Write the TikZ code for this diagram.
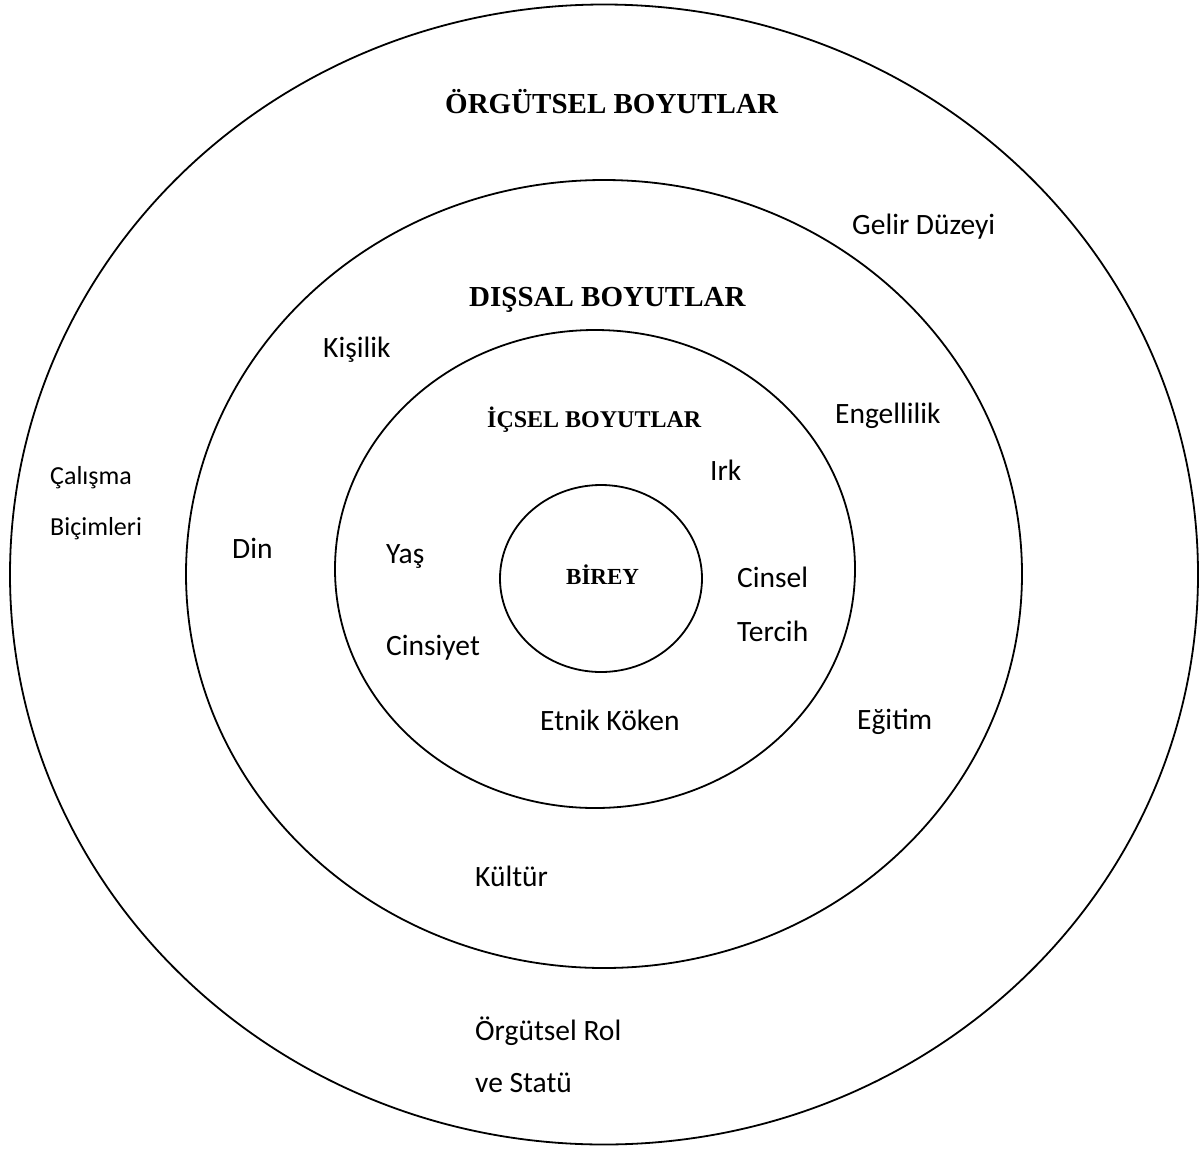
\documentclass[tikz,border=0pt]{standalone}
\usepackage{fontspec}
\setmainfont{Liberation Serif}
\newfontfamily\calfont{Carlito}
\begin{document}
\begin{tikzpicture}[x=1pt,y=-1pt,
  ring/.style={draw=black,line width=1.8pt},
  head/.style={font=\fontsize{29}{35}\selectfont\bfseries,anchor=base west,inner sep=0pt},
  headsm/.style={font=\fontsize{24}{29}\selectfont\bfseries,anchor=base west,inner sep=0pt},
  lbl/.style={font=\calfont\fontsize{29.5}{35}\selectfont,anchor=base west,inner sep=0pt},
  lblsm/.style={font=\calfont\fontsize{26}{31}\selectfont,anchor=base west,inner sep=0pt}]
\useasboundingbox[fill=white] (0,0) rectangle (1203,1149);
% rings
\draw[ring] (604,574.5) ellipse [x radius=594, y radius=570];
\draw[ring] (604,574) ellipse [x radius=418, y radius=394];
\draw[ring] (595,569) ellipse [x radius=260, y radius=239];
\draw[ring] (601,578.5) ellipse [x radius=101, y radius=93.5];
% headings
\node[head] (org) at (445,113) {ÖRGÜTSEL BOYUTLAR};
\node[head] (dis) at (469,306) {DIŞSAL BOYUTLAR};
\node[headsm] (ic) at (487,427) {İÇSEL BOYUTLAR};
\node[font=\fontsize{23}{28}\selectfont\bfseries,anchor=base west,inner sep=0pt] (birey) at (566,584) {BİREY};
% outer ring labels
\node[lbl] (gelir) at (852,234) {Gelir Düzeyi};
\node[lblsm] (calisma) at (50,484) {Çalışma};
\node[lblsm] (bicim) at (50,535) {Biçimleri};
\node[lbl] (rol) at (475,1040) {Örgütsel Rol};
\node[lbl] (statu) at (475,1092) {ve Statü};
% second ring labels
\node[lbl] (kisilik) at (323,357) {Kişilik};
\node[lbl] (engel) at (835,423) {Engellilik};
\node[lbl] (din) at (232,558) {Din};
\node[lbl] (egitim) at (857,729) {Eğitim};
\node[lbl] (kultur) at (475,886) {Kültür};
% third ring labels
\node[lbl] (irk) at (710,480) {Irk};
\node[lbl] (yas) at (386,563) {Yaş};
\node[lbl] (cinsel) at (737,587) {Cinsel};
\node[lbl] (tercih) at (737,641) {Tercih};
\node[lbl] (cinsiyet) at (386,655) {Cinsiyet};
\node[lbl] (etnik) at (540,730) {Etnik Köken};
\end{tikzpicture}
\end{document}
